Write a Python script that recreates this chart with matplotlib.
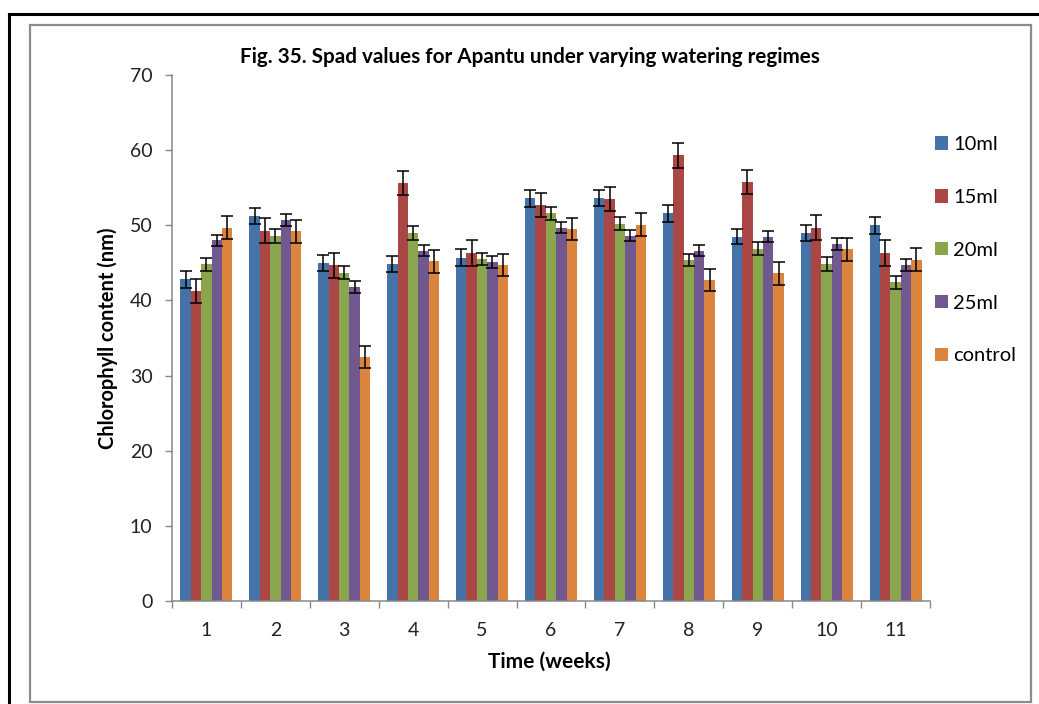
import numpy as np
import matplotlib
matplotlib.use("Agg")
import matplotlib.pyplot as plt
from matplotlib.lines import Line2D
from matplotlib.patches import Rectangle, Patch

# SPAD chlorophyll readings per week for each watering regime
weeks = ["1", "2", "3", "4", "5", "6", "7", "8", "9", "10", "11"]
series_names = ["10ml", "15ml", "20ml", "25ml", "control"]

ml10 = [42.8, 51.2, 45.0, 44.8, 45.7, 53.6, 53.6, 51.6, 48.5, 49.0, 50.0]
ml15 = [41.3, 49.3, 44.7, 55.6, 46.3, 52.7, 53.5, 59.3, 55.7, 49.7, 46.3]
ml20 = [44.8, 48.6, 43.7, 49.0, 45.5, 51.6, 50.2, 45.4, 46.9, 44.8, 42.4]
ml25 = [48.0, 50.7, 41.8, 46.6, 45.1, 49.7, 48.6, 46.6, 48.5, 47.5, 44.7]
control = [49.7, 49.2, 32.5, 45.2, 44.7, 49.5, 50.1, 42.7, 43.6, 46.8, 45.4]

# standard errors
err10 = [1.15, 1.05, 1.1, 1.05, 1.15, 1.15, 1.05, 1.15, 1.05, 1.05, 1.1]
err15 = [1.6, 1.7, 1.65, 1.6, 1.7, 1.65, 1.6, 1.65, 1.6, 1.7, 1.7]
err20 = [0.85, 0.9, 0.85, 0.9, 0.85, 0.9, 0.85, 0.8, 0.9, 0.95, 0.9]
err25 = [0.7, 0.75, 0.75, 0.75, 0.75, 0.7, 0.75, 0.75, 0.75, 0.75, 0.75]
errc = [1.5, 1.5, 1.5, 1.5, 1.45, 1.5, 1.5, 1.5, 1.5, 1.55, 1.55]

values = [ml10, ml15, ml20, ml25, control]
errors = [err10, err15, err20, err25, errc]
colors = ["#4572A7", "#AA4643", "#89A54E", "#71588F", "#DB843D"]

plt.rcParams["font.family"] = ["Lato", "DejaVu Sans"]

W, H = 1039, 704
fig = plt.figure(figsize=(W / 100, H / 100), dpi=100)
fig.patch.set_facecolor("white")

# outer black frame (top and left edges) and grey chart border
fig.add_artist(Line2D([9 / W, 1.0], [1 - 14 / H, 1 - 14 / H], color="black",
                      lw=2.2, transform=fig.transFigure))
fig.add_artist(Line2D([9 / W, 9 / W], [1 - 14 / H, 0.0], color="black",
                      lw=2.2, transform=fig.transFigure))
fig.add_artist(Rectangle((30 / W, 1 - 702 / H), (1031 - 30) / W, (702 - 25) / H,
                         transform=fig.transFigure, fill=False,
                         edgecolor="#8C8C8C", lw=1.6))

ax = fig.add_axes([172 / W, 1 - 601 / H, (930 - 172) / W, (601 - 75) / H])

x = np.arange(len(weeks))
bw = 0.151
for i, (vals, errs, col, name) in enumerate(zip(values, errors, colors, series_names)):
    ax.bar(x + (i - 2) * bw, vals, width=bw, color=col, label=name,
           yerr=errs, capsize=4.5,
           error_kw=dict(ecolor="black", elinewidth=1.1, capthick=1.1))

ax.set_xlim(-0.5, len(weeks) - 0.5)
ax.set_ylim(0, 70)
ax.set_yticks(np.arange(0, 71, 10))

ax.set_xticks(x)
ax.set_xticklabels(weeks)
ax.set_xticks(np.arange(-0.5, len(weeks)), minor=True)
ax.tick_params(axis="x", which="major", length=0, pad=15, labelsize=14, labelcolor="#222222")
ax.tick_params(axis="x", which="minor", length=5, width=1, color="#888888", direction="out")
ax.tick_params(axis="y", length=5, width=1, color="#888888", direction="out",
               pad=9, labelsize=14, labelcolor="#222222")

for side in ("top", "right"):
    ax.spines[side].set_visible(False)
for side in ("left", "bottom"):
    ax.spines[side].set_color("#888888")
    ax.spines[side].set_linewidth(1.1)

fig.text(530 / W, 1 - 57 / H, "Fig. 35. Spad values for Apantu under varying watering regimes",
         ha="center", va="center", fontsize=14.9, fontweight="bold")
fig.text(108 / W, 1 - 338 / H, "Chlorophyll content (nm)", rotation=90,
         ha="center", va="center", fontsize=14.4, fontweight="bold")
fig.text(549 / W, 1 - 662 / H, "Time (weeks)", ha="center", va="center",
         fontsize=15, fontweight="bold")

handles = [Patch(facecolor=c) for c in colors]
fig.legend(handles, series_names, loc="upper left",
           bbox_to_anchor=(927 / W, 1 - 128 / H), frameon=False,
           fontsize=14.5, handlelength=0.65, handleheight=0.65,
           handletextpad=0.25, labelspacing=1.78, borderaxespad=0)

fig.savefig("out.png", dpi=100, facecolor="white")
